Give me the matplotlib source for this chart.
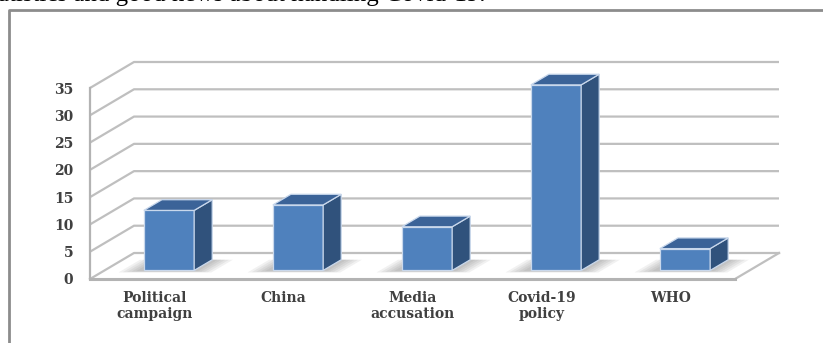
import matplotlib.pyplot as plt
from matplotlib.lines import Line2D

categories = ['Political\ncampaign', 'China', 'Media\naccusation', 'Covid-19\npolicy', 'WHO']
counts = [11, 12, 8, 34, 4]
y_ticks = [0, 5, 10, 15, 20, 25, 30, 35]
caption = 'atistics and good news about handling Covid-19.'

W, H = 823, 343
fig = plt.figure(figsize=(W / 100, H / 100), dpi=100)
fig.patch.set_facecolor('white')

# front face of the 3d box
ax = fig.add_axes([90 / W, 1 - 279 / H, 645 / W, 191 / H])
ax.set_xlim(-0.5, len(categories) - 0.5)
ax.set_ylim(0, 35)
ax.patch.set_alpha(0)

# depth of the box in data units
DX = 44 / 129
DY = 26 * 35 / 191
x0, x1 = -0.5, len(categories) - 0.5

def pt(x, y, d):
    return x + d * DX, y + d * DY

grid = '#bfbfbf'
for v in y_ticks[1:]:
    a, b, c = pt(x0, v, 0), pt(x0, v, 1), pt(x1, v, 1)
    ax.plot([a[0], b[0], c[0]], [a[1], b[1], c[1]], color=grid, lw=1.6,
            clip_on=False, zorder=1, solid_capstyle='butt')

# floor
fl = [pt(x0, 0, 0), pt(x0, 0, 1), pt(x1, 0, 1), pt(x1, 0, 0)]
ax.plot([p[0] for p in fl[:3]], [p[1] for p in fl[:3]], color=grid, lw=1.6,
        clip_on=False, zorder=1)
ax.plot([fl[2][0], fl[3][0]], [fl[2][1], fl[3][1]], color=grid, lw=1.6,
        clip_on=False, zorder=1)
ax.plot([x0, x1], [0, 0], color='#b3b3b3', lw=2.2, clip_on=False, zorder=2)
ax.plot([x0, x0], [0, 35], color='#b3b3b3', lw=1.6, clip_on=False, zorder=2)

# bars
bw = 0.39
d0, d1 = 0.33, 0.74
for i, v in enumerate(counts):
    l, r = i - bw / 2, i + bw / 2
    # soft shadow on the floor
    for k in range(5):
        e = 0.03 * k
        sh = [pt(l - 0.05 - e, 0, d0 - 0.03 - e * 0.4), pt(r + 0.04 + e, 0, d0 - 0.03 - e * 0.4),
              pt(r + 0.04 + e, 0, d1), pt(l - 0.05 - e, 0, d1)]
        ax.fill([p[0] for p in sh], [p[1] for p in sh], color='#505050',
                alpha=0.08, lw=0, clip_on=False, zorder=3)
    front = [pt(l, 0, d0), pt(r, 0, d0), pt(r, v, d0), pt(l, v, d0)]
    side = [pt(r, 0, d0), pt(r, 0, d1), pt(r, v, d1), pt(r, v, d0)]
    top = [pt(l, v, d0), pt(r, v, d0), pt(r, v, d1), pt(l, v, d1)]
    for face, col in [(front, '#4f81bd'), (side, '#30527c'), (top, '#3b6398')]:
        ax.fill([p[0] for p in face], [p[1] for p in face], facecolor=col,
                edgecolor='#c9d8ec', lw=0.9, clip_on=False, zorder=4)

ax.set_yticks(y_ticks)
ax.set_xticks(range(len(categories)))
ax.set_xticklabels(categories, linespacing=1.15)
ax.tick_params(length=0, colors='#404040')
ax.tick_params(axis='y', pad=12)
ax.tick_params(axis='x', pad=9)
for lab in ax.get_xticklabels() + ax.get_yticklabels():
    lab.set_fontfamily('DejaVu Serif')
    lab.set_fontsize(10)
    lab.set_fontweight('bold')
    lab.set_color('#404040')
for s in ax.spines.values():
    s.set_visible(False)

# outer frame around the chart
fig.add_artist(Line2D([9 / W, 9 / W, 1.0], [0, 1 - 10 / H, 1 - 10 / H],
                      color='#8c8c8c', lw=2))

fig.text(-2 / W, 1 - 0.5 / H, caption, ha='left', va='baseline',
         fontfamily='Liberation Serif', fontsize=18, color='black')

fig.savefig('out.png', dpi=100)
